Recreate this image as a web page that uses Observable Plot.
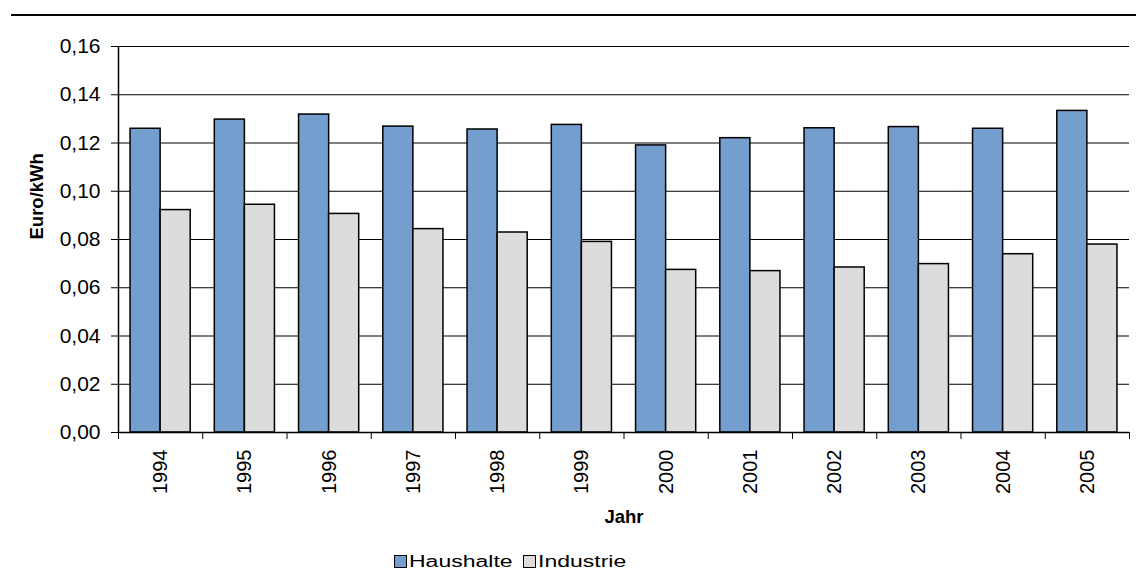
<!DOCTYPE html>
<html>
<head>
<meta charset="utf-8">
<script src="https://cdn.jsdelivr.net/npm/d3@7"></script>
<script src="https://cdn.jsdelivr.net/npm/@observablehq/plot@0.6"></script>
<style>
  html, body { margin: 0; padding: 0; background: #fff; }
  #wrap { position: relative; width: 1136px; height: 572px; overflow: hidden;
          font-family: "Liberation Sans", Arial, sans-serif; color: #000; }
  #topline { position: absolute; left: 11px; right: 0; top: 14px; border-top: 2.5px solid #000; }
  #chart { position: absolute; left: 0; top: 0; }
  .legend-item { position: absolute; top: 548px; display: flex; align-items: center; height: 26px; }
  .legend-swatch { width: 11px; height: 11px; border: 1px solid #000; }
  .legend-label { font-size: 23px; margin-left: 2px; display: inline-block;
                  transform: scaleY(0.75); transform-origin: center; line-height: 26px; }
</style>
</head>
<body>
<div id="wrap">
  <div id="topline"></div>
  <div id="chart"></div>
  <div id="legend"></div>
</div>
<script>
// ---- data ----
const years = [1994, 1995, 1996, 1997, 1998, 1999, 2000, 2001, 2002, 2003, 2004, 2005];
const haushalte = [0.1259, 0.1297, 0.1318, 0.1268, 0.1256, 0.1275, 0.1190, 0.1220, 0.1261, 0.1266, 0.1259, 0.1333];
const industrie = [0.0922, 0.0944, 0.0906, 0.0843, 0.0829, 0.0790, 0.0674, 0.0669, 0.0684, 0.0698, 0.0739, 0.0779];
const seriesNames = ["Haushalte", "Industrie"];
const seriesColors = ["#749ECE", "#DCDCDC"];
const yTicks = [0, 0.02, 0.04, 0.06, 0.08, 0.10, 0.12, 0.14, 0.16];
const yLabel = "Euro/kWh";
const xLabel = "Jahr";

// ---- table ----
const rows = years.flatMap((yr, i) => [
  {year: yr, series: seriesNames[0], value: haushalte[i]},
  {year: yr, series: seriesNames[1], value: industrie[i]}
]);

const barHalf = 0.357; // fraction of a year slot for each bar
const boundaries = years.map(y => y - 0.5).concat([years[years.length - 1] + 0.5]);
const fmt = d => d.toFixed(2).replace(".", ",");

const chart = Plot.plot({
  width: 1136,
  height: 545,
  marginLeft: 118,
  marginRight: 7,
  marginTop: 46,
  marginBottom: 113,
  style: {fontFamily: '"Liberation Sans", Arial, sans-serif', fontSize: "20px", color: "#000", background: "transparent", overflow: "visible"},
  x: {domain: [boundaries[0], boundaries[boundaries.length - 1]], label: null},
  y: {domain: [0, 0.16], label: null},
  color: {domain: seriesNames, range: seriesColors},
  marks: [
    Plot.ruleY(yTicks.slice(1), {stroke: "#000", strokeWidth: 1}),
    Plot.rectY(rows, {
      x1: d => d.series === seriesNames[0] ? d.year - barHalf : d.year,
      x2: d => d.series === seriesNames[0] ? d.year : d.year + barHalf,
      y: "value",
      fill: "series",
      stroke: "#000",
      strokeWidth: 1.5
    }),
    Plot.ruleY([0], {stroke: "#000", strokeWidth: 1.5}),
    Plot.ruleX([boundaries[0]], {stroke: "#000", strokeWidth: 1.5}),
    Plot.axisY(yTicks, {label: null, tickSize: 7, tickPadding: 11, tickFormat: fmt, fontSize: 21, stroke: "#000", fill: "#000"}),
    Plot.axisX(boundaries, {label: null, tickSize: 7, tickFormat: () => "", stroke: "#000"}),
    Plot.axisX(years, {label: null, tickSize: 0, tickPadding: 17, tickRotate: -90, tickFormat: d => String(d), fontSize: 20, fill: "#000"}),
    Plot.text([xLabel], {text: d => d, frameAnchor: "bottom", dy: 90, fontWeight: "bold", fontSize: 18.5, fill: "#000"}),
    Plot.text([yLabel], {text: d => d, frameAnchor: "left", dx: -81, rotate: -90, fontWeight: "bold", fontSize: 18.5, fill: "#000"})
  ]
});
document.getElementById("chart").appendChild(chart);

// ---- legend ----
const legend = document.getElementById("legend");
const legendLefts = [394, 523];
seriesNames.forEach((name, i) => {
  const item = document.createElement("div");
  item.className = "legend-item";
  item.style.left = legendLefts[i] + "px";
  const sw = document.createElement("span");
  sw.className = "legend-swatch";
  sw.style.background = seriesColors[i];
  const lab = document.createElement("span");
  lab.className = "legend-label";
  lab.textContent = name;
  item.appendChild(sw);
  item.appendChild(lab);
  legend.appendChild(item);
});
</script>
</body>
</html>
